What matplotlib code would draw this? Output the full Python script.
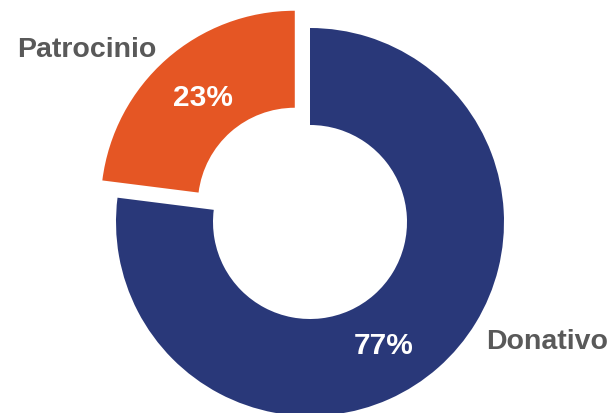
import matplotlib.pyplot as plt

categories = ['Donativo', 'Patrocinio']
shares = [77, 23]
colors = ['#293879', '#E55624']

plt.rcParams['font.family'] = ['Liberation Sans', 'DejaVu Sans']

fig = plt.figure(figsize=(6.15, 4.13), dpi=100)
ax = fig.add_axes([0, 0, 1, 1])

R = 194
# pie explode is in data units here (pixel-like axes)
wedges, texts, pcts = ax.pie(shares, colors=colors, startangle=90, counterclock=False,
                             center=(310, 191), radius=R, explode=[0, 23],
                             wedgeprops=dict(width=R * 0.5, linewidth=0),
                             autopct='%d%%', pctdistance=0.75,
                             textprops=dict(color='white', fontsize=21.5, fontweight='bold'),
                             frame=True)
ax.set_xlim(0, 615)
ax.set_ylim(0, 413)
ax.set_aspect('equal')
ax.axis('off')

# nudge percentages to where the original puts them
pcts[0].set_position((384, 413 - 346))
pcts[1].set_position((203, 413 - 98))

ax.text(87, 413 - 50, categories[1], color='#595959', fontsize=20.5, fontweight='bold',
        ha='center', va='center')
ax.text(547, 413 - 342, categories[0], color='#595959', fontsize=20.5, fontweight='bold',
        ha='center', va='center')

fig.savefig('out.png', dpi=100)
